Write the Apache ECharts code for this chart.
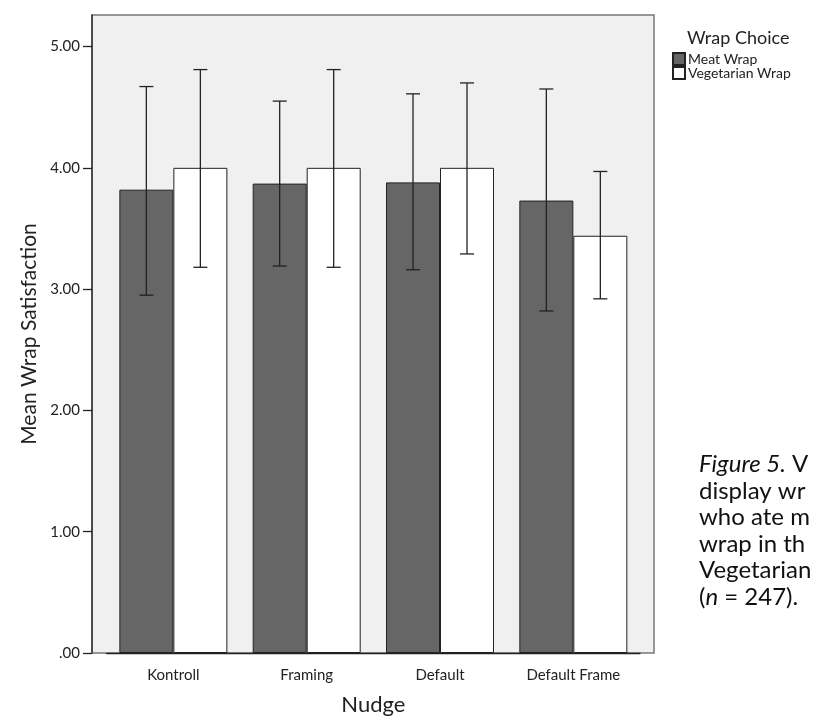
<!DOCTYPE html>
<html>
<head>
<meta charset="utf-8">
<script src="https://cdn.jsdelivr.net/npm/echarts@6/dist/echarts.min.js"></script>
<style>
  html, body { margin: 0; padding: 0; background: #fff; }
  #wrapChart { width: 814px; height: 720px; }
</style>
</head>
<body>
<div id="wrapChart"></div>
<script>
var categories = ['Kontroll', 'Framing', 'Default', 'Default Frame'];
var meatMean = [3.82, 3.87, 3.88, 3.73];
var meatLow = [2.95, 3.19, 3.16, 2.82];
var meatHigh = [4.67, 4.55, 4.61, 4.65];
var vegMean = [4.00, 4.00, 4.00, 3.44];
var vegLow = [3.18, 3.18, 3.29, 2.92];
var vegHigh = [4.81, 4.81, 4.70, 3.97];
var yTicks = [0, 1, 2, 3, 4, 5];
var captionLines = ['{i|Figure 5.} V', 'display wr', 'who ate m', 'wrap in th', 'Vegetarian', '({i|n} = 247).'];

var FONT = 'Lato';
var yMax = 5.26;

var chart = echarts.init(document.getElementById('wrapChart'));

// error bars drawn beside the category centre, one per bar
function errorBars(low, high, offset, name) {
  var data = [];
  for (var i = 0; i < categories.length; i++) {
    data.push([i, low[i], high[i]]);
  }
  return {
    type: 'custom',
    name: name,
    xAxisIndex: 1,
    yAxisIndex: 1,
    z: 10,
    silent: true,
    data: data,
    renderItem: function (params, api) {
      var top = api.coord([api.value(0), api.value(2)]);
      var bot = api.coord([api.value(0), api.value(1)]);
      var x = top[0] + offset;
      var cap = 7;
      var st = { stroke: '#222', lineWidth: 1.3 };
      return {
        type: 'group',
        children: [
          { type: 'line', shape: { x1: x, y1: top[1], x2: x, y2: bot[1] }, style: st },
          { type: 'line', shape: { x1: x - cap, y1: top[1], x2: x + cap, y2: top[1] }, style: st },
          { type: 'line', shape: { x1: x - cap, y1: bot[1], x2: x + cap, y2: bot[1] }, style: st }
        ]
      };
    }
  };
}

var option = {
  animation: false,
  textStyle: { fontFamily: FONT },
  title: {
    text: 'Wrap Choice',
    left: 682,
    top: 24,
    textStyle: { fontFamily: FONT, fontSize: 18, fontWeight: 'normal', color: '#222' }
  },
  legend: {
    data: ['Meat Wrap', 'Vegetarian Wrap'],
    orient: 'vertical',
    left: 667,
    top: 47,
    itemWidth: 12,
    itemHeight: 12,
    itemGap: 0,
    icon: 'rect',
    textStyle: { fontFamily: FONT, fontSize: 14, color: '#222', padding: [0, 0, 0, -2] }
  },
  grid: [
    { left: 92, top: 15, width: 562, height: 638, outerBoundsMode: 'none', show: true, backgroundColor: '#f0f0f0', borderColor: '#777', borderWidth: 1.5 },
    { left: 106.7, top: 15, width: 533.3, height: 638, outerBoundsMode: 'none' }
  ],
  xAxis: [
    { gridIndex: 0, type: 'value', show: false, min: 0, max: 1 },
    {
      gridIndex: 1,
      type: 'category',
      data: categories,
      name: 'Nudge',
      nameLocation: 'middle',
      nameGap: 41,
      nameTextStyle: { fontFamily: FONT, fontSize: 22, color: '#222' },
      axisLine: { lineStyle: { color: '#222', width: 1.3 } },
      axisTick: { alignWithLabel: true, length: 9, lineStyle: { color: '#222', width: 1.3 } },
      axisLabel: { fontFamily: FONT, fontSize: 15, color: '#222', margin: 15 }
    }
  ],
  yAxis: [
    {
      gridIndex: 0,
      type: 'value',
      min: 0,
      max: yMax,
      interval: 1,
      name: 'Mean Wrap Satisfaction',
      nameLocation: 'middle',
      nameGap: 46,
      nameRotate: 90,
      nameTextStyle: { fontFamily: FONT, fontSize: 21, color: '#222' },
      splitLine: { show: false },
      axisLine: { show: true, lineStyle: { color: '#333', width: 1.5 } },
      axisTick: { show: true, length: 9, customValues: yTicks, lineStyle: { color: '#222', width: 1.3 } },
      axisLabel: {
        customValues: yTicks,
        fontFamily: FONT,
        fontSize: 15,
        color: '#222',
        margin: 12,
        formatter: function (v) { return v === 0 ? '.00' : v.toFixed(2); }
      }
    },
    { gridIndex: 1, type: 'value', min: 0, max: yMax, show: false }
  ],
  series: [
    {
      name: 'Meat Wrap',
      type: 'bar',
      xAxisIndex: 1,
      yAxisIndex: 1,
      barWidth: 54,
      barGap: '0%',
      data: meatMean,
      itemStyle: { color: '#666666', borderColor: '#222', borderWidth: 1 }
    },
    {
      name: 'Vegetarian Wrap',
      type: 'bar',
      xAxisIndex: 1,
      yAxisIndex: 1,
      barWidth: 54,
      data: vegMean,
      itemStyle: { color: '#ffffff', borderColor: '#222', borderWidth: 1 }
    },
    errorBars(meatLow, meatHigh, -27, 'meatErr'),
    errorBars(vegLow, vegHigh, 27, 'vegErr')
  ],
  graphic: [
    {
      type: 'text',
      left: 699,
      top: 451,
      style: {
        text: captionLines.join('\n'),
        font: '24px ' + FONT,
        fill: '#111',
        lineHeight: 26.6,
        rich: {
          i: { fontStyle: 'italic', fontFamily: FONT, fontSize: 24, fill: '#111', lineHeight: 26.6 }
        }
      }
    }
  ]
};

chart.setOption(option);
</script>
</body>
</html>
